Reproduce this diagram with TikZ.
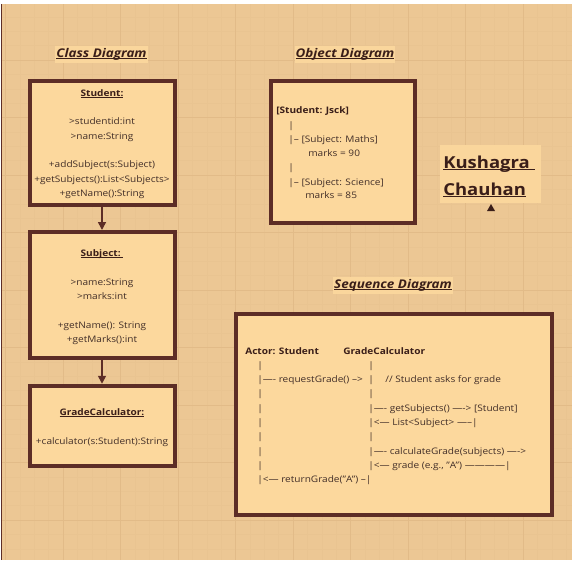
\documentclass[tikz,border=0pt]{standalone}
\usepackage{fontspec}
\setmainfont{Open Sans}[FakeStretch=1.12]
\usetikzlibrary{arrows.meta}

\definecolor{paper}{RGB}{236,199,148}
\definecolor{gridmajor}{RGB}{226,187,136}
\definecolor{gridminor}{RGB}{233,196,145}
\definecolor{boxfill}{RGB}{252,216,157}
\definecolor{hilite}{RGB}{250,214,156}
\definecolor{edge}{RGB}{93,45,38}
\definecolor{ink}{RGB}{66,46,40}
\definecolor{headink}{RGB}{58,30,25}

\newcommand{\ulined}[2][0.6pt]{\setbox0=\hbox{#2}\rlap{\rule[-1.8pt]{\wd0}{#1}}\box0}

\tikzset{
every picture/.style={
line width=0.6pt
}}

\begin{document}
\begin{tikzpicture}[x=1pt, y=-1pt,
umlbox/.style = {rectangle, draw=edge, line width=4pt, fill=boxfill, inner sep=0pt, minimum width=145pt},
txt/.style = {anchor=base, inner sep=0pt, text=ink, font=\fontsize{9}{11}\selectfont},
ltxt/.style = {txt, anchor=base west},
head/.style = {txt, text=headink, font=\fontsize{9}{11}\selectfont\bfseries},
title/.style = {anchor=base, fill=hilite, inner xsep=1pt, inner ysep=2.5pt, text=headink, font=\fontsize{12}{14}\selectfont\bfseries\itshape},
link/.style = {draw=edge, line width=1.6pt, -{Triangle[length=8pt,width=8pt]}}]

\useasboundingbox (0,0) rectangle (580,560);
\fill[white] (0,0) rectangle (580,560);

% paper with grid
\fill[paper] (2,4) rectangle (572,560);
\begin{scope}
\clip (2,4) rectangle (572,560);
\foreach \i in {0,...,40} {
\draw[gridminor, line width=0.5pt] ({5.5+\i*14.375},4) -- ({5.5+\i*14.375},560);
\draw[gridminor, line width=0.5pt] (2,{2.5+\i*14.375}) -- (572,{2.5+\i*14.375});
}
\foreach \i in {0,...,10} {
\draw[gridmajor, line width=0.8pt] ({5.5+\i*57.5},4) -- ({5.5+\i*57.5},560);
\draw[gridmajor, line width=0.8pt] (2,{2.5+\i*57.5}) -- (572,{2.5+\i*57.5});
}
\end{scope}
\draw[edge, line width=1.2pt] (1.5,4) -- (1.5,560);

% class diagram
\node[title] (classtitle) at (101.5,57.5) {\ulined[0.9pt]{Class Diagram}};

\node[umlbox, minimum height=124pt] (student) at (102,142.5) {};
\node[head] (studenthd) at (102,96) {\ulined{Student:}};
\node[txt] (sattr1) at (102,124) {>studentid:int};
\node[txt] (sattr2) at (102,139) {>name:String};
\node[txt] (sop1) at (102,167) {+addSubject(s:Subject)};
\node[txt] (sop2) at (102,182) {+getSubjects():List<Subjects>};
\node[txt] (sop3) at (102,196) {+getName():String};

\node[umlbox, minimum height=126pt] (subject) at (102,295) {};
\node[head] (subjecthd) at (102,256) {\ulined{Subject:\ }};
\node[txt] (battr1) at (102,285) {>name:String};
\node[txt] (battr2) at (102,299) {>marks:int};
\node[txt] (bop1) at (102,328) {+getName(): String};
\node[txt] (bop2) at (102,342) {+getMarks():int};

\node[umlbox, minimum height=80.5pt] (gradecalc) at (102,426) {};
\node[head] (gradecalchd) at (102,415) {\ulined{GradeCalculator:}};
\node[txt] (gop1) at (102,444) {+calculator(s:Student):String};

\draw[link] (student) -- (subject);
\draw[link] (subject) -- (gradecalc);

% object diagram
\node[title] (objtitle) at (345,57.5) {\ulined[0.9pt]{Object Diagram}};
\node[umlbox, minimum width=144.5pt, minimum height=142.5pt] (objbox) at (342.75,151.75) {};
\node[head, anchor=base west] (objroot) at (276,113) {[Student: Jsck]};
\node[ltxt] (obar1) at (288,128) {|};
\node[ltxt] (omaths) at (288,142) {|-- [Subject: Maths]};
\node[ltxt] (omark1) at (308,156) {marks = 90};
\node[ltxt] (obar2) at (288,170) {|};
\node[ltxt] (oscience) at (288,185) {|-- [Subject: Science]};
\node[ltxt] (omark2) at (305,198) {marks = 85};

% name
\fill[hilite] (440,145) rectangle (541,203);
\node[anchor=base west, inner sep=0pt, text=headink, font=\fontsize{16.5}{18}\selectfont\bfseries] (firstname) at (443,168) {\ulined[1.3pt]{Kushagra\ }};
\node[anchor=base west, inner sep=0pt, text=headink, font=\fontsize{16.5}{18}\selectfont\bfseries] (lastname) at (443,195) {\ulined[1.3pt]{Chauhan}};
\fill[headink] (487,211) -- (495,211) -- (491,204) -- cycle;

% sequence diagram
\node[title] (seqtitle) at (393,288.5) {\ulined[0.9pt]{Sequence Diagram}};
\node[umlbox, minimum width=315.5pt, minimum height=200.5pt] (seqbox) at (393.75,414.25) {};
\node[head, anchor=base west] (actor) at (245,354) {Actor: Student};
\node[head, anchor=base west] (calcobj) at (343,354) {GradeCalculator};

\foreach \r in {1,3,4,5,6,7,8} {
\node[ltxt] (lbar\r) at (257,{354+\r*14.3}) {|};
}
\foreach \r in {1,3,6} {
\node[ltxt] (rbar\r) at (368,{354+\r*14.3}) {|};
}
\node[ltxt] (msg1) at (257,382.6) {|---- requestGrade() -->};
\node[ltxt] (rbar2) at (368,382.6) {|};
\node[ltxt] (note1) at (385,382.6) {// Student asks for grade};
\node[ltxt] (msg2) at (368,411.2) {|---- getSubjects() ----> [Student]};
\node[ltxt] (msg3) at (368,425.5) {|<--- List<Subject> -----|};
\node[ltxt] (msg4) at (368,454.1) {|---- calculateGrade(subjects) ---->};
\node[ltxt] (msg5) at (368,468.4) {|<--- grade (e.g., "A") ------------|};
\node[ltxt] (msg6) at (257,482.7) {|<--- returnGrade("A") --|};

\end{tikzpicture}
\end{document}
